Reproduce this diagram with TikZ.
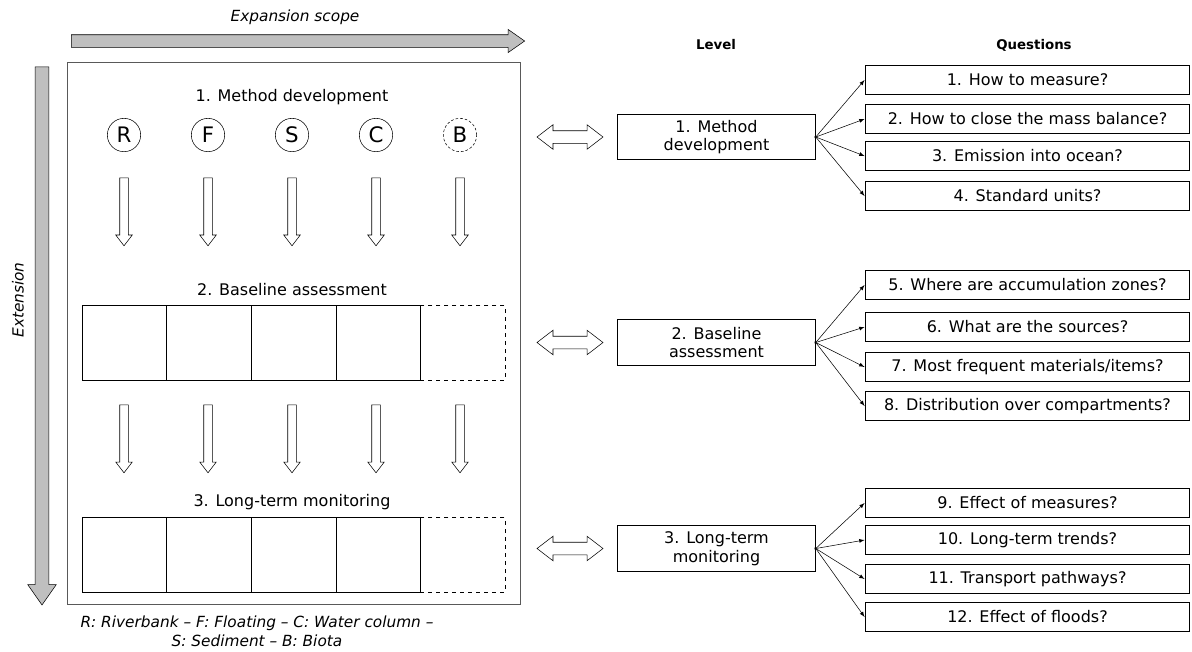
\documentclass[tikz,border=0pt]{standalone}
\usepackage{fontspec}
\setmainfont{DejaVu Sans}
\usetikzlibrary{arrows,positioning,shapes.arrows}

\begin{document}
\begin{tikzpicture}[x=0.75pt,y=-0.75pt,font=\fontsize{12}{14}\selectfont,
	comp/.style={circle,draw,minimum size=25pt,inner sep=0pt,font=\fontsize{16}{18}\selectfont},
	down/.style={single arrow,draw,shape border rotate=270,minimum height=51pt,single arrow head extend=3pt,single arrow tip angle=75,inner sep=3pt},
	big/.style={single arrow,draw,fill=gray!50,single arrow tip angle=70},
	cell/.style={draw,minimum width=63.5pt,minimum height=56pt,inner sep=0pt},
	both/.style={double arrow,draw,minimum height=49.5pt,double arrow head extend=4.5pt,double arrow tip angle=75,inner sep=4.5pt},
	level/.style={draw,line width=0.9pt,minimum width=148pt,minimum height=34pt,align=center,inner sep=1pt},
	quest/.style={draw,line width=0.9pt,minimum width=243.5pt,minimum height=21.5pt,inner sep=0pt},
	head/.style={font=\fontsize{10}{12}\selectfont\bfseries},
	ask/.style={->,>=latex,shorten <=-1pt}]
\useasboundingbox (0,0) rectangle (1192,651);
\node [big,minimum height=340pt,inner sep=4.5pt,single arrow head extend=4pt] (xs) at (293.5,41) {};
\node [font=\fontsize{11.5}{13}\selectfont\itshape] (xst) at (295,17) {Expansion scope};
\node [big,shape border rotate=270,minimum height=403.5pt,inner sep=5pt,single arrow head extend=5.5pt] (ex) at (42,331) {};
\node [font=\fontsize{11.5}{13}\selectfont\itshape,rotate=90] (ext) at (18,300) {Extension};
\draw [gray!70!black] (67,62) rectangle (520,604);
\node (t1) at (292,97) {1. Method development};
\node (t2) at (292,290) {2. Baseline assessment};
\node (t3) at (292,502) {3. Long-term monitoring};
\foreach \c/\x in {R/124,F/208,S/292,C/376,B/460}{
	\ifnum\x=460
		\node [comp,dash pattern=on 2pt off 1.5pt] (c\c) at (\x,135) {\c};
	\else
		\node [comp] (c\c) at (\x,135) {\c};
	\fi
	\node [down] (d\c) at (\x,209) {};
	\node [down] (e\c) at (\x,436) {};
}
\foreach \i in {1,...,4}{
	\node [cell] (b\i) at (82+84.6*\i-42.3,342.5) {};
	\node [cell] (m\i) at (82+84.6*\i-42.3,554.5) {};
}
\node [cell,dashed] (b5) at (462.7,342.5) {};
\node [cell,dashed] (m5) at (462.7,554.5) {};
\node [font=\fontsize{11.5}{14}\selectfont\itshape,align=center] (key) at (257,631) {R: Riverbank -- F: Floating -- C: Water column --\\S: Sediment -- B: Biota};
\node [head] (lh) at (716,45) {Level};
\node [head] (qh) at (1034,45) {Questions};
\node [level] (l1) at (716.5,137) {1. Method\\development};
\node [level] (l2) at (716.5,342.5) {2. Baseline\\assessment};
\node [level] (l3) at (716.5,548.5) {3. Long-term\\monitoring};
\node [both] (a1) at (570,137) {};
\node [both] (a2) at (570,342.5) {};
\node [both] (a3) at (570,548.5) {};
\node [quest] (q1) at (1027.5,80) {1. How to measure?};
\node [quest] (q2) at (1027.5,119) {2. How to close the mass balance?};
\node [quest] (q3) at (1027.5,156) {3. Emission into ocean?};
\node [quest] (q4) at (1027.5,196) {4. Standard units?};
\node [quest] (q5) at (1027.5,285) {5. Where are accumulation zones?};
\node [quest] (q6) at (1027.5,327) {6. What are the sources?};
\node [quest] (q7) at (1027.5,367) {7. Most frequent materials/items?};
\node [quest] (q8) at (1027.5,406) {8. Distribution over compartments?};
\node [quest] (q9) at (1027.5,503) {9. Effect of measures?};
\node [quest] (q10) at (1027.5,540) {10. Long-term trends?};
\node [quest] (q11) at (1027.5,579) {11. Transport pathways?};
\node [quest] (q12) at (1027.5,617) {12. Effect of floods?};
\foreach \l/\a/\b in {1/1/4,2/5/8,3/9/12}
	\foreach \q in {\a,...,\b}
		\draw [ask] (l\l.east) -- (q\q.west);
\end{tikzpicture}
\end{document}
